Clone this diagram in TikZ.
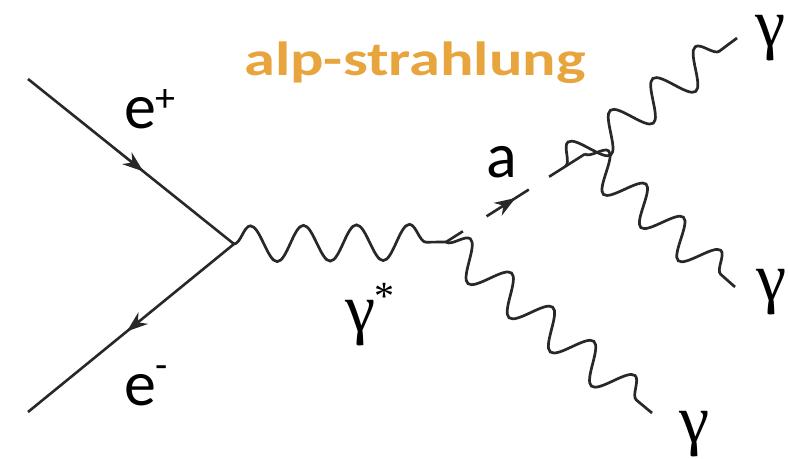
\documentclass[tikz,border=0pt]{standalone}
\usepackage{fontspec}
\setmainfont{Carlito}
\newfontfamily\greekfont{Liberation Serif}
\usetikzlibrary{decorations.pathmorphing,decorations.markings,arrows.meta,calc}
\definecolor{lineclr}{RGB}{40,40,40}
\definecolor{titleclr}{RGB}{232,165,62}
\tikzset{
  fermion/.style={draw=lineclr,line width=2.6pt,postaction={decorate},
    decoration={markings,mark=at position #1 with {\arrow[lineclr]{Stealth[length=21pt,width=15pt]}}}},
  photon/.style={draw=lineclr,line width=2.7pt,decorate,
    decoration={snake,segment length=#1,amplitude=18pt}},
  alpline/.style={draw=lineclr,line width=2.6pt,dash pattern=on 20pt off 28pt on 50pt off 24pt on 80pt,
    postaction={decorate,solid},
    decoration={markings,mark=at position 0.5 with {\arrow[lineclr]{Stealth[length=21pt,width=15pt]}}}},
  elabel/.style={font=\fontsize{64}{64}\selectfont,inner sep=0pt,anchor=base},
  supl/.style={font=\fontsize{40}{40}\selectfont,inner sep=0pt},
  glabel/.style={font=\greekfont\fontsize{68}{68}\selectfont,inner sep=0pt},
  titlelabel/.style={font=\bfseries\fontsize{48}{48}\selectfont,text=titleclr,inner sep=0pt,anchor=base}
}
\begin{document}
\begin{tikzpicture}[x=1pt,y=-1pt]
\path[use as bounding box,fill=white] (0,0) rectangle (789,458);
% vertices
\coordinate (A) at (28,79);
\coordinate (B) at (28,412);
\coordinate (V1) at (234,244);
\coordinate (V2) at (446,242);
\coordinate (V3) at (585,154);
\coordinate (U0) at ($(V2)!0.86!(V3)$);
\coordinate (G1) at (737,38);
\coordinate (G2) at (735,287);
\coordinate (G3) at (652,413);
% fermions
\draw[fermion=0.56] (A) -- (V1);
\draw[fermion=0.52] (V1) -- (B);
% photons
\draw[photon=53] (V1) -- (V2);
\draw[photon=53.5] (V2) -- (G3);
\draw[photon=53] (U0) -- (G1);
\draw[photon=50] (V3) -- (G2);
% axion
\draw[alpline] (V2) -- (V3);
% labels
\node[titlelabel] (title) at (415,75) {\scalebox{1.3}[1]{alp-strahlung}};
\node[elabel] (ep) at (140,128) {e};
\node[supl] (epsup) at (165,101) {+};
\node[elabel] (em) at (140,405) {e};
\node[supl] (emsup) at (162,372) {-};
\node[elabel] (a) at (502,177) {a};
\node[glabel] (g1) at (771,38) {γ};
\node[glabel] (g2) at (772,292) {γ};
\node[glabel] (g3) at (695,434) {γ};
\node[glabel] (gs) at (361,323) {γ};
\node[font=\greekfont\fontsize{40}{40}\selectfont,inner sep=0pt] (gsstar) at (384,296) {*};
\end{tikzpicture}
\end{document}
